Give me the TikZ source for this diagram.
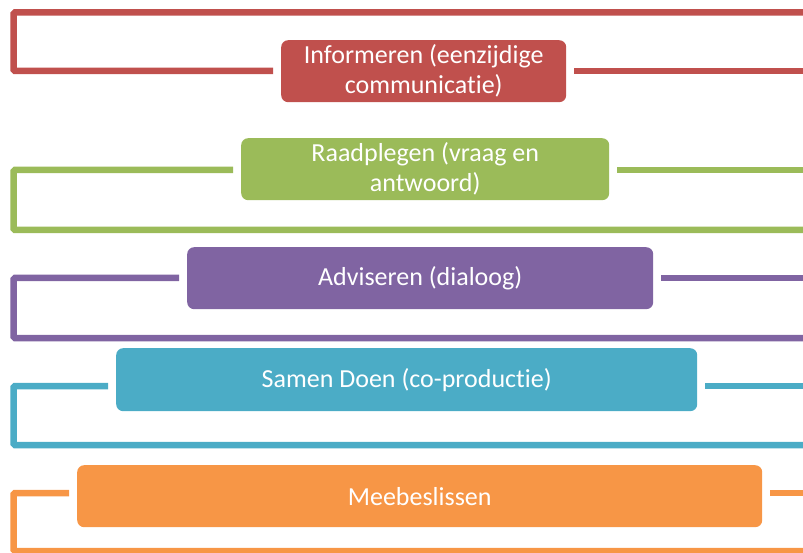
\documentclass[tikz,border=0pt]{standalone}
\usepackage{fontspec}
\setmainfont[Ligatures=NoCommon]{Carlito}
\definecolor{cred}{HTML}{C0504D}
\definecolor{cgreen}{HTML}{9BBB59}
\definecolor{cpurple}{HTML}{8064A2}
\definecolor{ccyan}{HTML}{4BACC6}
\definecolor{corange}{HTML}{F79646}
\begin{document}
\begin{tikzpicture}[x=1bp,y=-1bp,
  lvlbox/.style={rounded corners=7bp, minimum height=62bp, inner sep=0pt,
    text=white, align=center, font=\fontsize{26bp}{30bp}\selectfont, anchor=north west},
  bracket/.style={line width=6.5bp, rounded corners=1.5bp}]
\useasboundingbox (0,0) rectangle (803,553);
\clip (0,0) rectangle (803,553);
% boxes
\node[lvlbox, fill=cred, minimum width=285bp] (red) at (281,40) {Informeren (eenzijdige\\communicatie)};
\node[lvlbox, fill=cgreen, minimum width=368bp] (green) at (241,138) {Raadplegen (vraag en\\antwoord)};
\node[lvlbox, fill=cpurple, minimum width=466bp] (purple) at (187,247) {Adviseren (dialoog)};
\node[lvlbox, fill=ccyan, minimum width=581bp, minimum height=63bp] (cyan) at (116,348) {Samen Doen (co-productie)};
\node[lvlbox, fill=corange, minimum width=685bp] (orange) at (77,465) {Meebeslissen};
% coordinates
\coordinate (rTR) at (806,12.5); \coordinate (rTL) at (13.5,12.5);
\coordinate (rBL) at (13.5,71);  \coordinate (rR) at (806,71);
\coordinate (gTL) at (13.5,170); \coordinate (gBL) at (13.5,230);
\coordinate (gBR) at (806,230);  \coordinate (gR) at (806,170);
\coordinate (pTL) at (13.5,278); \coordinate (pBL) at (13.5,338);
\coordinate (pBR) at (806,338);  \coordinate (pR) at (806,278);
\coordinate (cTL) at (13.5,386); \coordinate (cBL) at (13.5,445);
\coordinate (cBR) at (806,445);  \coordinate (cR) at (806,386);
\coordinate (oTL) at (13.5,493); \coordinate (oBL) at (13.5,551);
\coordinate (oBR) at (806,551);  \coordinate (oR) at (806,493);
% brackets
\draw[bracket, cred] (rTR) -- (rTL) -- (rBL) -- ([xshift=-8bp]red.west |- rBL);
\draw[bracket, cred] ([xshift=8bp]red.east |- rR) -- (rR);
\draw[bracket, cgreen] ([xshift=-8bp]green.west |- gTL) -- (gTL) -- (gBL) -- (gBR);
\draw[bracket, cgreen] ([xshift=8bp]green.east |- gR) -- (gR);
\draw[bracket, cpurple] ([xshift=-8bp]purple.west |- pTL) -- (pTL) -- (pBL) -- (pBR);
\draw[bracket, cpurple] ([xshift=8bp]purple.east |- pR) -- (pR);
\draw[bracket, ccyan] ([xshift=-8bp]cyan.west |- cTL) -- (cTL) -- (cBL) -- (cBR);
\draw[bracket, ccyan] ([xshift=8bp]cyan.east |- cR) -- (cR);
\draw[bracket, corange] ([xshift=-8bp]orange.west |- oTL) -- (oTL) -- (oBL) -- (oBR);
\draw[bracket, corange] ([xshift=8bp]orange.east |- oR) -- (oR);
\end{tikzpicture}
\end{document}
